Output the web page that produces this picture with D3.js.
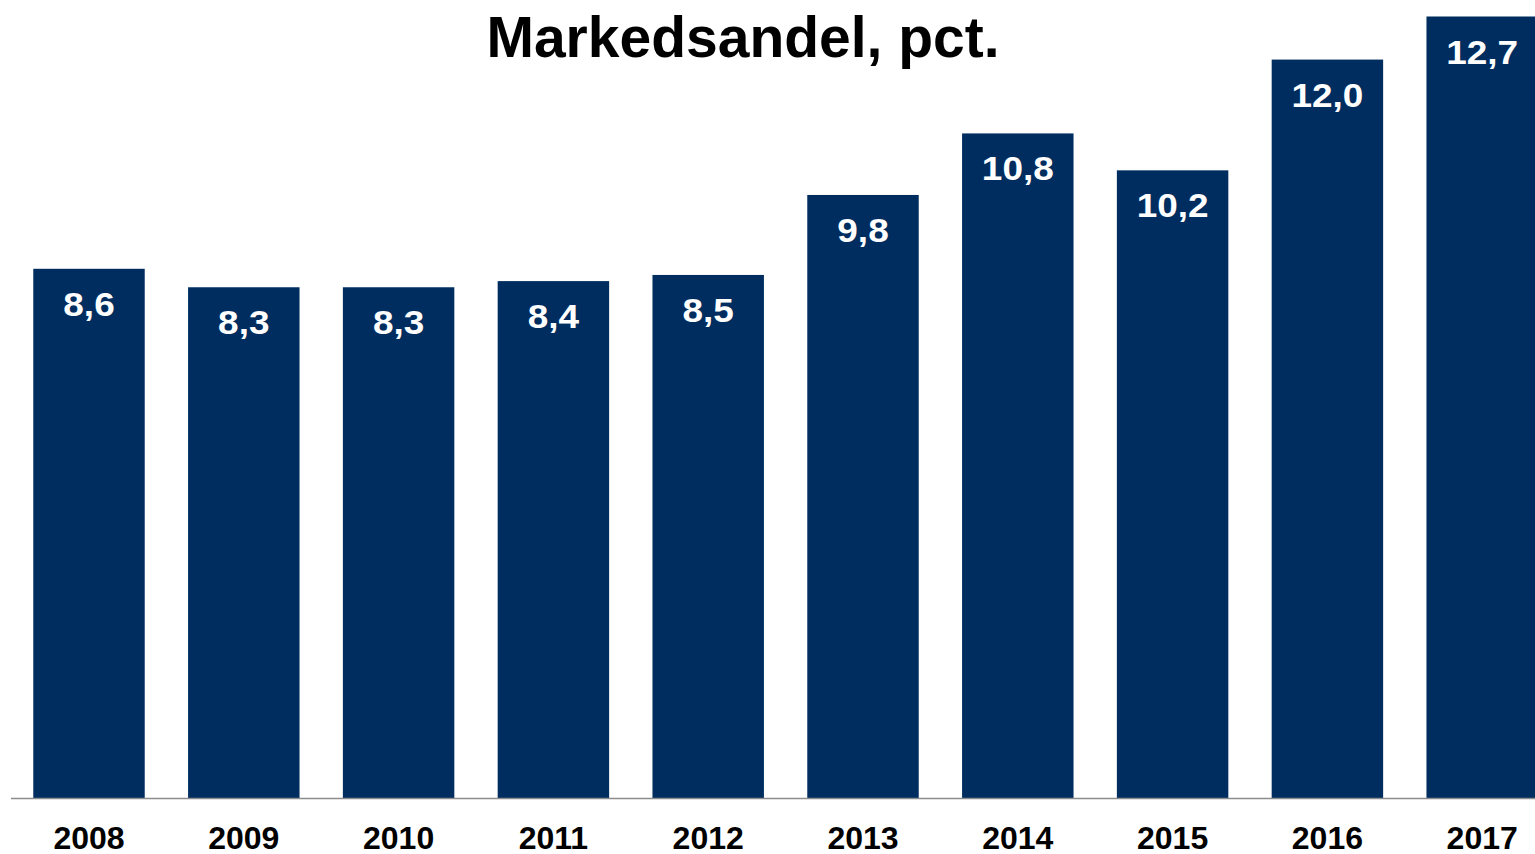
<!DOCTYPE html>
<html>
<head>
<meta charset="utf-8">
<script src="https://cdn.jsdelivr.net/npm/d3@7"></script>
<style>
  html, body { margin: 0; padding: 0; background: #fff; }
  svg { display: block; font-family: "Liberation Sans", Arial, sans-serif; }
</style>
</head>
<body>
<svg id="chart" width="1535" height="854"></svg>
<script>
// data
const years = ['2008', '2009', '2010', '2011', '2012', '2013', '2014', '2015', '2016', '2017'];
const shares = [8.6, 8.3, 8.3, 8.4, 8.5, 9.8, 10.8, 10.2, 12.0, 12.7];
const title = 'Markedsandel, pct.';

const WIDTH = 1535;
const HEIGHT = 854;
const BASE = 798;        // y of the axis line
const BAR_COLOR = '#002d5f';

const svg = d3.select('#chart');

const x = d3.scaleBand()
  .domain(years)
  .range([11.6, 11.6 + 10 * 154.8])
  .paddingInner(0.28)
  .paddingOuter(0.14);

const y = d3.scaleLinear()
  .domain([0, 12.7])
  .range([BASE, 16.5]);

const fmt = v => d3.format('.1f')(v).replace('.', ',');

// bars
svg.selectAll('.bar')
  .data(years)
  .enter()
  .append('rect')
  .attr('class', 'bar')
  .attr('x', d => x(d))
  .attr('y', (d, i) => y(shares[i]))
  .attr('width', x.bandwidth())
  .attr('height', (d, i) => BASE - y(shares[i]))
  .attr('fill', BAR_COLOR);

// value labels inside the bars (glyphs a bit wide, like the original)
svg.selectAll('.value')
  .data(years)
  .enter()
  .append('text')
  .attr('class', 'value')
  .attr('transform', (d, i) =>
    `translate(${x(d) + x.bandwidth() / 2}, ${y(shares[i]) + 47}) scale(1.12, 1)`)
  .attr('text-anchor', 'middle')
  .attr('font-size', 33)
  .attr('font-weight', 'bold')
  .attr('fill', '#fff')
  .text((d, i) => fmt(shares[i]));

// axis line
svg.append('line')
  .attr('x1', 11)
  .attr('x2', WIDTH)
  .attr('y1', BASE + 0.5)
  .attr('y2', BASE + 0.5)
  .attr('stroke', '#8c8c8c')
  .attr('stroke-width', 1.5);

// year labels
svg.selectAll('.year')
  .data(years)
  .enter()
  .append('text')
  .attr('class', 'year')
  .attr('x', d => x(d) + x.bandwidth() / 2)
  .attr('y', 849)
  .attr('text-anchor', 'middle')
  .attr('font-size', 32)
  .attr('font-weight', 'bold')
  .attr('fill', '#000')
  .text(d => d);

// title
svg.append('text')
  .attr('x', 743)
  .attr('y', 57)
  .attr('text-anchor', 'middle')
  .attr('font-size', 57)
  .attr('font-weight', 'bold')
  .attr('fill', '#000')
  .text(title);
</script>
</body>
</html>
